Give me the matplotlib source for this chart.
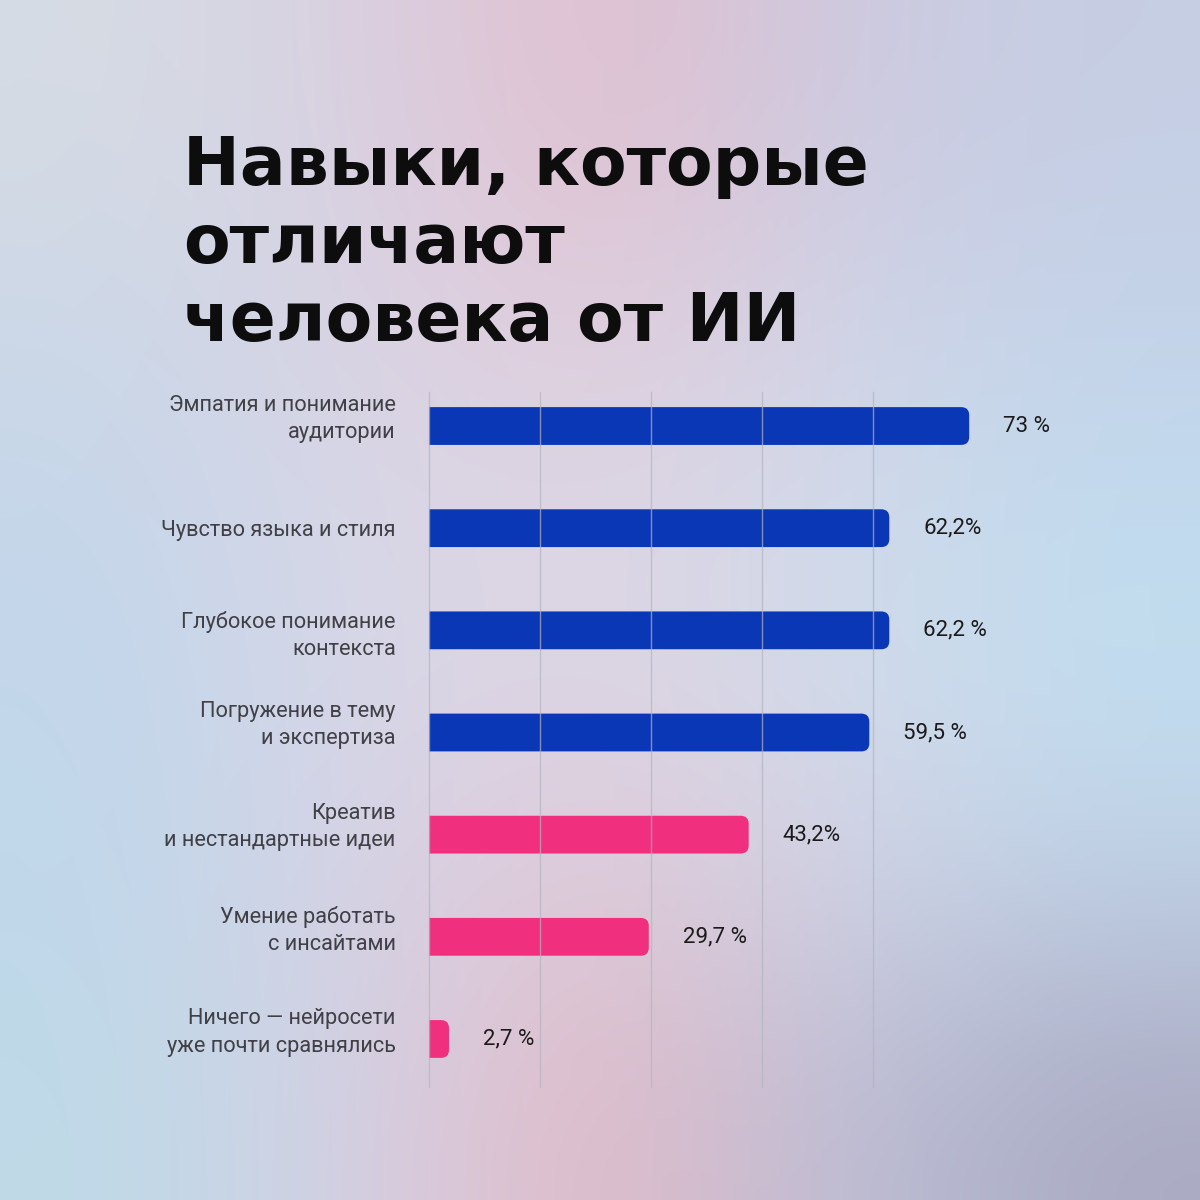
import numpy as np
import matplotlib.pyplot as plt
import matplotlib.transforms as mtransforms
from matplotlib.patches import FancyBboxPatch

plt.rcParams['font.family'] = ['Roboto', 'DejaVu Sans']

title_lines = ["Навыки, которые", "отличают", "человека от ИИ"]

skills = [
    "Эмпатия и понимание\nаудитории",
    "Чувство языка и стиля",
    "Глубокое понимание\nконтекста",
    "Погружение в тему\nи экспертиза",
    "Креатив\nи нестандартные идеи",
    "Умение работать\nс инсайтами",
    "Ничего — нейросети\nуже почти сравнялись",
]
shares = [73, 62.2, 62.2, 59.5, 43.2, 29.7, 2.7]
share_labels = ["73 %", "62,2%", "62,2 %", "59,5 %", "43,2%", "29,7 %", "2,7 %"]
grid_ticks = [0, 15, 30, 45, 60]

BLUE = "#0a37b6"
PINK = "#f0307e"
colors = [BLUE if i < 4 else PINK for i in range(len(shares))]
# vertical nudge of the label blocks, in pixels (up is positive)
label_shift = [13, 0, 0, 13, 13, 12, 12]

# background colour control points (rows top -> bottom)
bg_grid = np.array([
    [(214, 220, 228), (216, 208, 226), (228, 190, 205), (205, 202, 224), (198, 206, 228)],
    [(202, 215, 232), (218, 212, 228), (225, 206, 220), (210, 214, 232), (195, 212, 234)],
    [(195, 215, 235), (216, 216, 232), (222, 216, 230), (208, 220, 236), (192, 222, 240)],
    [(192, 215, 235), (215, 212, 230), (225, 202, 216), (212, 215, 232), (195, 215, 235)],
    [(190, 218, 232), (212, 208, 228), (228, 184, 196), (188, 192, 216), (170, 170, 194)],
]) / 255.0

W = H = 1200
fig = plt.figure(figsize=(12, 12), dpi=100)

bg = fig.add_axes([0, 0, 1, 1], zorder=0)
bg.imshow(bg_grid, extent=[0, 1, 0, 1], interpolation='bicubic', aspect='auto')
bg.set_axis_off()

for i, line in enumerate(title_lines):
    fig.text(183 / W, 1 - (185 + 78 * i) / H, line, fontsize=49, fontweight='bold',
             family='DejaVu Sans', color='#0d0d0d', va='baseline', ha='left', zorder=5)

ax_left, ax_top, ax_bottom = 429, 392, 1087
xmax = 80
px_x = 7.4
ax = fig.add_axes([ax_left / W, 1 - ax_bottom / H, xmax * px_x / W, (ax_bottom - ax_top) / H], zorder=2)
ax.patch.set_visible(False)
ymin, ymax = -0.333, len(shares) - 1 + 0.47
ax.set_xlim(0, xmax)
ax.set_ylim(ymax, ymin)
px_y = (ax_bottom - ax_top) / (ymax - ymin)

bars = ax.barh(range(len(shares)), shares, height=0.37, color=colors)
r = 8 / px_x
for bar, c in zip(bars, colors):
    x, y = bar.get_x(), bar.get_y()
    w, h = bar.get_width(), bar.get_height()
    bar.set_visible(False)
    ax.add_patch(FancyBboxPatch((x - 2 * r, y), w + 2 * r, h,
                                boxstyle=f"round,pad=0,rounding_size={r}",
                                mutation_aspect=(8 / px_y) / r,
                                facecolor=c, edgecolor='none', zorder=2))

for t in grid_ticks:
    ax.axvline(t, color='#b4b4c0', alpha=0.7, lw=1.0, zorder=3, clip_on=False)

for i, (v, lab) in enumerate(zip(shares, share_labels)):
    ax.text(v + 34 / px_x, i, lab, va='center', ha='left', fontsize=16, color='#1a1a1a')

ax.set_yticks(range(len(skills)), skills)
ax.tick_params(axis='y', length=0, pad=24, labelsize=15.7, labelcolor='#404046')
for lbl, dy in zip(ax.get_yticklabels(), label_shift):
    lbl.set_multialignment('right')
    lbl.set_linespacing(1.38)
    lbl.set_transform(lbl.get_transform() +
                      mtransforms.ScaledTranslation(0, dy / 100, fig.dpi_scale_trans))
ax.set_xticks([])
for s in ax.spines.values():
    s.set_visible(False)

fig.savefig('out.png', dpi=100)
